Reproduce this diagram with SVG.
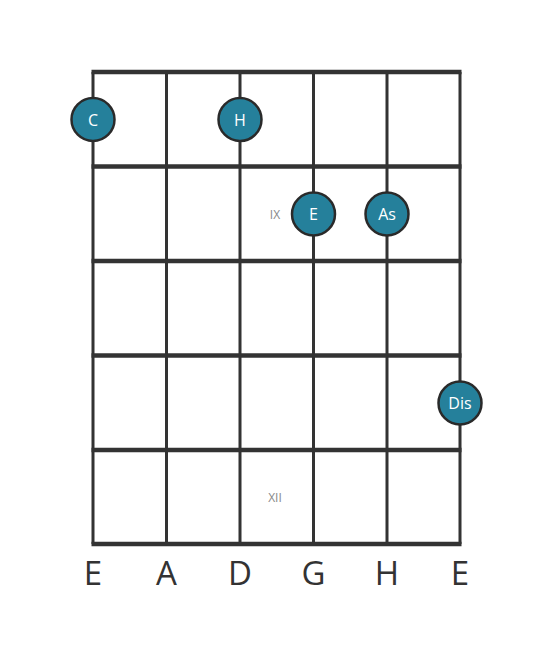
<svg xmlns="http://www.w3.org/2000/svg" width="553" height="656" viewBox="0 0 553 656">
<style>
.fret{stroke:#333;stroke-width:4.5}
.str{stroke:#333;stroke-width:3}
.note circle{fill:#25809b;stroke:#2a2a2a;stroke-width:2.5}
.note text{fill:#fff;font-family:"Open Sans","DejaVu Sans",sans-serif;font-size:16px;text-anchor:middle;dominant-baseline:central}
.mark{fill:#888;font-family:"Open Sans","DejaVu Sans",sans-serif;font-size:12px;text-anchor:middle;dominant-baseline:central}
.sname{fill:#333;font-family:"Open Sans","DejaVu Sans",sans-serif;font-size:33px;text-anchor:middle}
</style>
<rect width="553" height="656" fill="#fff"/>
<g id="fretboard">
<line class="str" x1="93" y1="72" x2="93" y2="544"/>
<line class="str" x1="166.5" y1="72" x2="166.5" y2="544"/>
<line class="str" x1="240" y1="72" x2="240" y2="544"/>
<line class="str" x1="313.5" y1="72" x2="313.5" y2="544"/>
<line class="str" x1="387" y1="72" x2="387" y2="544"/>
<line class="str" x1="460" y1="72" x2="460" y2="544"/>
<line class="fret" x1="91.5" y1="72" x2="461.5" y2="72"/>
<line class="fret" x1="91.5" y1="166.5" x2="461.5" y2="166.5"/>
<line class="fret" x1="91.5" y1="261" x2="461.5" y2="261"/>
<line class="fret" x1="91.5" y1="355.5" x2="461.5" y2="355.5"/>
<line class="fret" x1="91.5" y1="450" x2="461.5" y2="450"/>
<line class="fret" x1="91.5" y1="544" x2="461.5" y2="544"/>
<text class="mark" x="275" y="214">IX</text>
<text class="mark" x="275" y="497">XII</text>
</g>
<g id="note-C" class="note"><circle cx="93" cy="119.5" r="21.5"/><text x="93" y="119.5">C</text></g>
<g id="note-H" class="note"><circle cx="240" cy="119.5" r="21.5"/><text x="240" y="119.5">H</text></g>
<g id="note-E" class="note"><circle cx="313.5" cy="214" r="21.5"/><text x="313.5" y="214">E</text></g>
<g id="note-As" class="note"><circle cx="387" cy="214" r="21.5"/><text x="387" y="214">As</text></g>
<g id="note-Dis" class="note"><circle cx="460" cy="403" r="21.5"/><text x="460" y="403">Dis</text></g>
<g id="strings-labels">
<text class="sname" x="93" y="585">E</text>
<text class="sname" x="166.5" y="585">A</text>
<text class="sname" x="240" y="585">D</text>
<text class="sname" x="313.5" y="585">G</text>
<text class="sname" x="387" y="585">H</text>
<text class="sname" x="460" y="585">E</text>
</g>
</svg>
